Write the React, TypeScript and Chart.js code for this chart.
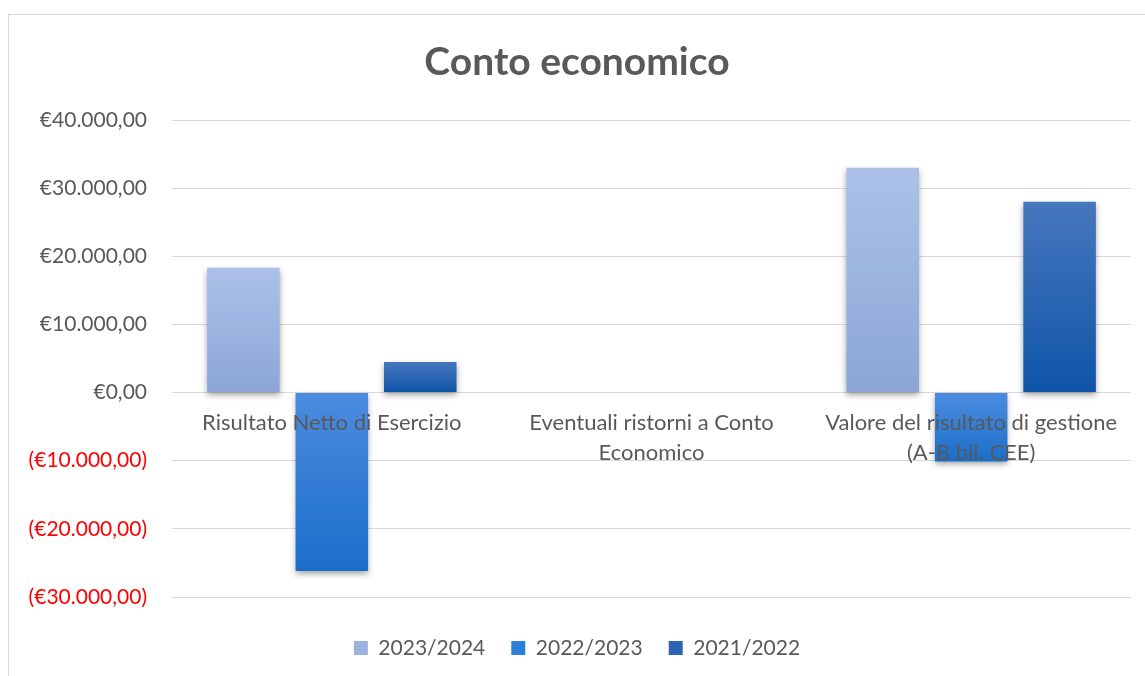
import React, { useEffect, useRef } from "react";
import { Chart, registerables } from "chart.js";

Chart.register(...registerables);

const categories: (string | string[])[] = [
  "Risultato Netto di Esercizio",
  ["Eventuali ristorni a Conto", "Economico"],
  ["Valore del risultato di gestione", "(A-B bil. CEE)"],
];
const seriesNames = ["2023/2024", "2022/2023", "2021/2022"];
const values2324 = [18300, 0, 33000];
const values2223 = [-26200, 0, -10100];
const values2122 = [4500, 0, 28000];
const yTicks = [-30000, -20000, -10000, 0, 10000, 20000, 30000, 40000];

const gradients = [
  ["#ABC1E9", "#8BA6D6"],
  ["#4C8CE0", "#1A6ECA"],
  ["#4777BD", "#0F55A8"],
];
const legendColors = ["#9CB4E0", "#2A7FDC", "#2D63B0"];

const FONT = 'Lato, "Open Sans", sans-serif';
const TEXT = "#595959";

function fmt(v: number): string {
  const abs = Math.abs(v);
  const s = abs.toFixed(0).replace(/\B(?=(\d{3})+(?!\d))/g, ".");
  const str = "€" + s + ",00";
  return v < 0 ? "(" + str + ")" : str;
}

function gradientFor(idx: number) {
  return (ctx: any) => {
    const chart = ctx.chart;
    const { chartArea, scales } = chart;
    const [c1, c2] = gradients[idx];
    if (!chartArea || !scales || !scales.y || ctx.type !== "data") return c1;
    const v = ctx.raw as number;
    const y0 = scales.y.getPixelForValue(0);
    const y1 = scales.y.getPixelForValue(v);
    const top = Math.min(y0, y1);
    const bot = Math.max(y0, y1);
    if (bot - top < 1) return c1;
    const g = chart.ctx.createLinearGradient(0, top, 0, bot);
    g.addColorStop(0, c1);
    g.addColorStop(1, c2);
    return g;
  };
}

const shadowPlugin = {
  id: "barShadow",
  beforeDatasetsDraw(chart: any) {
    const c = chart.ctx;
    c.save();
    c.shadowColor = "rgba(0,0,0,0.35)";
    c.shadowBlur = 6;
    c.shadowOffsetX = 0;
    c.shadowOffsetY = 3;
  },
  afterDatasetsDraw(chart: any) {
    chart.ctx.restore();
  },
};

export default function App() {
  const ref = useRef<HTMLCanvasElement | null>(null);
  useEffect(() => {
    if (!ref.current) return;
    const seriesData = [values2324, values2223, values2122];
    const chart = new Chart(ref.current, {
      type: "bar",
      data: {
        labels: categories,
        datasets: seriesNames.map((name, i) => ({
          label: name,
          data: seriesData[i],
          backgroundColor: gradientFor(i),
          borderWidth: 0,
          categoryPercentage: 0.83,
          barPercentage: 0.82,
        })),
      },
      plugins: [shadowPlugin],
      options: {
        animation: false,
        responsive: true,
        maintainAspectRatio: false,
        layout: { padding: { left: 14, right: 14, top: 0, bottom: 6.5 } },
        plugins: {
          title: {
            display: true,
            text: "Conto economico",
            color: TEXT,
            font: { family: FONT, size: 39, weight: "bold", lineHeight: 1.2 },
            padding: { top: 23.6, bottom: 34.6 },
          },
          legend: {
            display: true,
            position: "bottom",
            title: { display: true, text: " ", font: { size: 10, lineHeight: "14.5px" as any }, padding: 0 },
            labels: {
              color: TEXT,
              font: { family: FONT, size: 21 },
              boxWidth: 14,
              boxHeight: 14,
              padding: 26,
              generateLabels: () =>
                seriesNames.map((n, i) => ({
                  text: n,
                  fillStyle: legendColors[i],
                  strokeStyle: legendColors[i],
                  lineWidth: 0,
                  hidden: false,
                  datasetIndex: i,
                  fontColor: TEXT,
                })),
            },
          },
          tooltip: { enabled: false },
        },
        scales: {
          x: {
            position: { y: 0 } as any,
            grid: { display: false, drawTicks: false },
            border: { display: false },
            ticks: {
              z: 1,
              color: TEXT,
              font: { family: FONT, size: 22, lineHeight: 1.364 },
              padding: 15,
              maxRotation: 0,
              autoSkip: false,
            },
          },
          y: {
            min: yTicks[0],
            max: yTicks[yTicks.length - 1],
            afterBuildTicks: (scale: any) => {
              scale.ticks = yTicks.map((v) => ({ value: v }));
            },
            afterFit: (scale: any) => {
              scale.width = 149;
            },
            grid: { color: "#D9D9D9", lineWidth: 1, drawTicks: false },
            border: { display: false },
            ticks: {
              color: (ctx: any) => (ctx.tick && ctx.tick.value < 0 ? "#FF0000" : TEXT),
              font: { family: FONT, size: 21 },
              padding: 25,
              callback: (v: any) => fmt(Number(v)),
            },
          },
        },
      },
    });
    return () => chart.destroy();
  }, []);

  return (
    <div
      style={{
        position: "absolute",
        left: 8,
        top: 14,
        width: 1150,
        height: 680,
        border: "1px solid #D9D9D9",
        background: "#fff",
      }}
    >
      <div style={{ position: "relative", width: 1136, height: 660 }}>
        <canvas ref={ref} />
      </div>
    </div>
  );
}
